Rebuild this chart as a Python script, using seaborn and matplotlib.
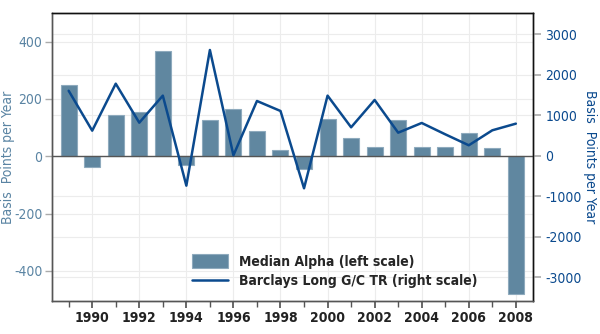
import matplotlib
matplotlib.use("Agg")
import matplotlib.pyplot as plt
import matplotlib.transforms as mtransforms
import seaborn as sns
import pandas as pd

years = list(range(1989, 2009))
median_alpha = [250, -36, 143, 153, 368, -32, 128, 165, 87, 22, -46, 130, 64, 33, 126, 31, 31, 80, 28, -481]
barclays_tr = [1610, 625, 1785, 822, 1490, -733, 2617, 17, 1358, 1111, -798, 1490, 708, 1383, 575, 815, 535, 264, 634, 798]
xtick_labels = [str(y) for y in range(1990, 2009, 2)]
left_ticks = [-400, -200, 0, 200, 400]
right_ticks = [-3000, -2000, -1000, 0, 1000, 2000, 3000]

sns.set_theme(style="white")
plt.rcParams['font.family'] = ['DejaVu Sans']
plt.rcParams['font.stretch'] = 'condensed'

bar_color = "#6087a0"
line_color = "#0b4a8e"
left_col = "#5a84a3"

df = pd.DataFrame({"year": years, "alpha": median_alpha, "tr": barclays_tr})

fig = plt.figure(figsize=(6.0, 3.34), dpi=100)
ax = fig.add_axes([0.087, 0.099, 0.801, 0.862])
ax2 = ax.twinx()

# gridlines (behind bars)
for t in range(1990, 2009, 2):
    ax.axvline(t, color="#ececec", lw=0.8, zorder=0)
for t in left_ticks:
    ax.axhline(t, color="#ececec", lw=0.8, zorder=0)
blend = mtransforms.blended_transform_factory(ax.transAxes, ax2.transData)
for t in right_ticks:
    if t != 0:
        ax.plot([0, 1], [t, t], transform=blend, color="#ececec", lw=0.8, zorder=0)

sns.barplot(data=df, x="year", y="alpha", native_scale=True, width=0.68,
            color=bar_color, saturation=1, edgecolor="#8eaabd", linewidth=0.8,
            ax=ax, label="Median Alpha (left scale)", zorder=2)
ax.axhline(0, color="#555555", lw=1.0, zorder=3)
if ax.get_legend() is not None:
    ax.get_legend().remove()

ax2.set_zorder(ax.get_zorder() + 1)
ax2.patch.set_visible(False)
sns.lineplot(data=df, x="year", y="tr", color=line_color, lw=1.8, ax=ax2,
             label="Barclays Long G/C TR (right scale)", zorder=4, legend=False)

ax.set_xlim(1988.3, 2008.72)
ax.set_ylim(-505, 500)
ax2.set_ylim(-3580, 3530)

ax.set_xticks(range(1990, 2009, 2))
ax.set_xticklabels(xtick_labels, fontsize=10, fontweight="bold", color="#222222")
ax.set_xticks(range(1989, 2009, 2), minor=True)
ax.tick_params(axis="x", which="both", direction="out", length=4, color="#555555", bottom=True, pad=2)
ax.tick_params(axis="x", which="major", length=5)

ax.set_yticks(left_ticks)
ax.set_yticklabels([str(t) for t in left_ticks], fontsize=10, color=left_col)
ax.tick_params(axis="y", left=True, direction="out", length=5, color="#aaaaaa", width=1.0, pad=2)
ax2.set_yticks(right_ticks)
ax2.set_yticklabels([str(t) for t in right_ticks], fontsize=10, color=line_color)
ax2.tick_params(axis="y", right=True, direction="out", length=6, color="#aaaaaa", width=1.2, pad=3)

ax.set_xlabel("")
ax.set_ylabel("Basis  Points per Year", color=left_col, fontsize=10)
ax.yaxis.set_label_coords(-0.077, 0.5)
ax2.set_xlabel("")
ax2.set_ylabel("Basis  Points per Year", color=line_color, fontsize=10, rotation=270, va="center")
ax2.yaxis.set_label_coords(1.118, 0.5)

for a in (ax, ax2):
    a.spines["top"].set_color("#111111")
    a.spines["right"].set_color("#111111")
    a.spines["left"].set_color("#555555")
    a.spines["bottom"].set_color("#555555")
    for s in a.spines.values():
        s.set_linewidth(1.0)

h1, l1 = ax.get_legend_handles_labels()
h2, l2 = ax2.get_legend_handles_labels()
leg = ax2.legend(h1 + h2, l1 + l2, loc="lower left", bbox_to_anchor=(0.265, 0.0),
                 frameon=False, handlelength=2.6, handleheight=1.2,
                 labelspacing=0.35, prop={"weight": "semibold", "size": 10, "stretch": "condensed"})

fig.savefig("out.png", dpi=100)
